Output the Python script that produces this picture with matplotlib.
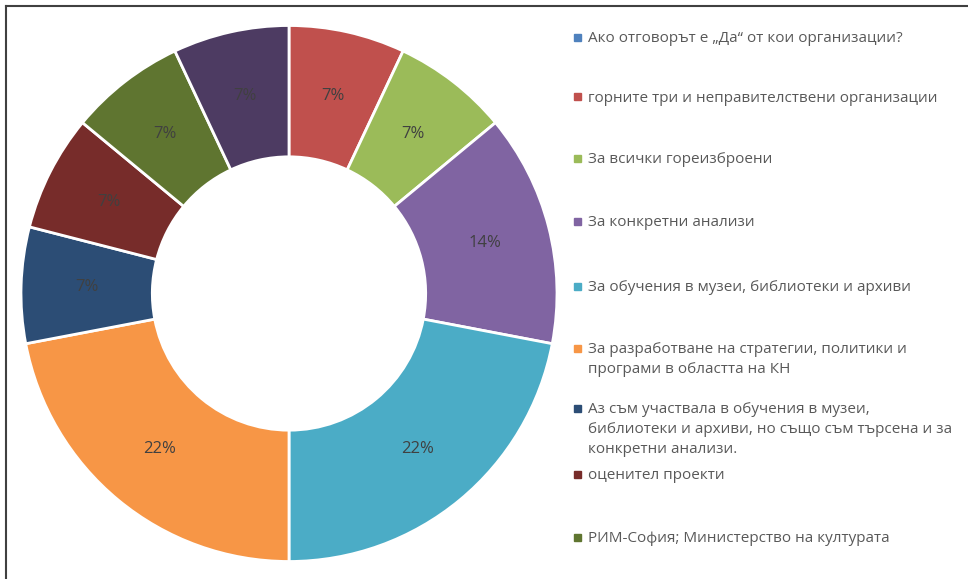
import matplotlib.pyplot as plt
from matplotlib.patches import Rectangle
from matplotlib.lines import Line2D

# данни от диаграмата (проценти)
categories = [
    "Ако отговорът е „Да“ от кои организации?",
    "горните три и неправителствени организации",
    "За всички гореизброени",
    "За конкретни анализи",
    "За обучения в музеи, библиотеки и архиви",
    "За разработване на стратегии, политики и\nпрограми в областта на КН",
    "Аз съм участвала в обучения в музеи,\nбиблиотеки и архиви, но също съм търсена и за\nконкретни анализи.",
    "оценител проекти",
    "РИМ-София; Министерство на културата",
    "(без име)",
]
values = [0, 7, 7, 14, 22, 22, 7, 7, 7, 7]
colors = ["#4F81BD", "#C0504D", "#9BBB59", "#8064A2", "#4BACC6",
          "#F79646", "#2C4D75", "#772C2A", "#5F7530", "#4D3B62"]
n_legend = 9  # легендата в оригинала е отрязана след 9-тия ред

W, H = 968, 579
plt.rcParams['font.family'] = ['Open Sans', 'DejaVu Sans']
fig = plt.figure(figsize=(W / 100, H / 100), dpi=100)

# рамка (само лява и горна линия се виждат)
fig.add_artist(Line2D([6 / W, 6 / W], [0, 1 - 6 / H], color="#404040", lw=1.5))
fig.add_artist(Line2D([6 / W, 1], [1 - 6 / H, 1 - 6 / H], color="#404040", lw=1.5))

# пръстеновидна диаграма
cx, cy, R = 289, 293.5, 268
ax = fig.add_axes([(cx - R) / W, (H - cy - R) / H, 2 * R / W, 2 * R / H])


def fmt(p):
    return f"{p:.0f}%" if p > 0.5 else ""


wedges, texts, autotexts = ax.pie(
    values, colors=colors, startangle=90, counterclock=False, radius=1,
    autopct=fmt, pctdistance=0.755,
    wedgeprops=dict(width=0.49, edgecolor="white", linewidth=2),
    textprops=dict(color="#404040", fontsize=12))
ax.set_xlim(-1, 1)
ax.set_ylim(-1, 1)
ax.set_aspect("equal")
ax.axis("off")

# легенда — ръчно, както е разположена в Excel
legend_y = [37, 97, 158, 221, 286, 348, 408, 474, 537]
for i in range(n_legend):
    y = legend_y[i]
    fig.add_artist(Rectangle((574 / W, (H - y - 3.5) / H), 7 / W, 7 / H,
                             color=colors[i], transform=fig.transFigure))
    fig.text(588 / W, (H - y + 6) / H, categories[i], color="#595959",
             fontsize=11, va="top", ha="left",
             linespacing=1.45, transform=fig.transFigure)

fig.savefig("out.png", dpi=100)
